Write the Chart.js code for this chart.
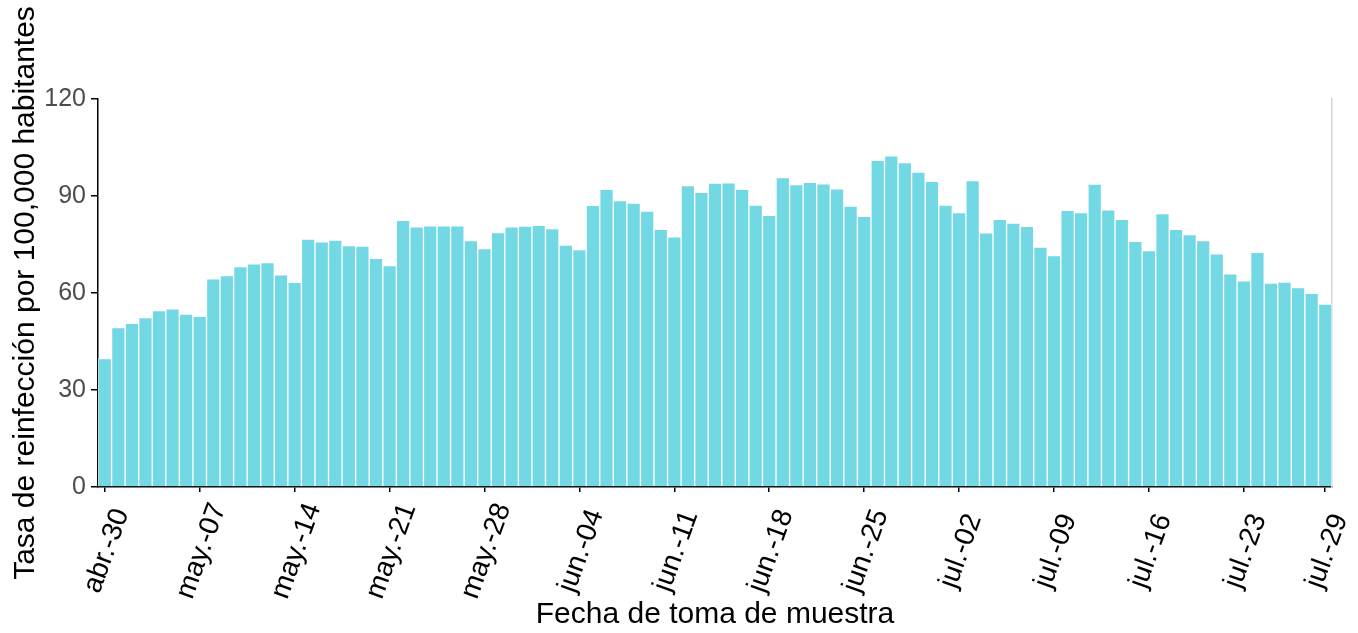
<!DOCTYPE html>
<html lang="es">
<head>
<meta charset="utf-8">
<title>Tasa de reinfección</title>
<script src="https://cdn.jsdelivr.net/npm/chart.js@4.4.1/dist/chart.umd.min.js"></script>
<style>
  html, body { margin: 0; padding: 0; background: #fff; }
  #wrap { width: 1358px; height: 633px; }
</style>
</head>
<body>
<div id="wrap"><canvas id="grafico"></canvas></div>
<script>
// Días cubiertos: abr.-30 a jul.-29 (mes, día inicial, día final)
const meses = [['abr.', 30, 30], ['may.', 1, 31], ['jun.', 1, 30], ['jul.', 1, 29]];
const fechas = [];
meses.forEach(([m, ini, fin]) => {
    for (let d = ini; d <= fin; d++) fechas.push(m + '-' + String(d).padStart(2, '0'));
});

// Etiquetas que se muestran en el eje x
const etiquetasEje = ['abr.-30', 'may.-07', 'may.-14', 'may.-21', 'may.-28', 'jun.-04', 'jun.-11',
    'jun.-18', 'jun.-25', 'jul.-02', 'jul.-09', 'jul.-16', 'jul.-23', 'jul.-29'];

// Tasa diaria de reinfección por 100,000 habitantes
const tasa = [
    39.7, 49.3, 50.6, 52.4, 54.6, 55.1, 53.5, 52.8, 64.4, 65.4, 68.2, 69.0, 69.4, 65.6, 63.3,
    76.7, 75.8, 76.4, 74.7, 74.5, 70.7, 68.5, 82.5, 80.5, 80.8, 80.8, 80.8, 76.2, 73.7, 78.7, 80.5,
    80.7, 80.9, 79.9, 74.8, 73.4, 87.1, 92.1, 88.6, 87.8, 85.3, 79.7, 77.4, 93.2, 91.1, 94.0,
    94.1, 92.1, 87.2, 84.0, 95.7, 93.5, 94.2, 93.8, 92.2, 86.9, 83.7, 101.0, 102.4, 100.3, 97.4, 94.5,
    87.2, 84.9, 94.8, 78.6, 82.8, 81.6, 80.6, 74.2, 71.6, 85.6, 84.9, 93.7, 85.7, 82.8,
    76.0, 73.1, 84.6, 79.7, 78.1, 76.2, 72.1, 65.9, 63.8, 72.6, 63.1, 63.4, 61.7, 59.9, 56.6
];

const ejeYMin = 0, ejeYMax = 120, pasoY = 30;

const fuente = '"Liberation Sans", Arial, sans-serif';
Chart.defaults.font.family = fuente;
Chart.defaults.animation = false;

const esMarcada = (i) => etiquetasEje.includes(fechas[i]);

// Etiquetas del eje x giradas 70° y centradas bajo cada marca (como en ggplot)
const etiquetasX = {
    id: 'etiquetasX',
    afterDraw(chart) {
        const { ctx, scales: { x } } = chart;
        ctx.save();
        ctx.font = '28px ' + fuente;
        ctx.fillStyle = '#000';
        ctx.textAlign = 'center';
        ctx.textBaseline = 'middle';
        fechas.forEach((f, i) => {
            if (!esMarcada(i)) return;
            ctx.save();
            ctx.translate(x.getPixelForTick(i) + 2, x.top + 64);
            ctx.rotate(-70 * Math.PI / 180);
            ctx.fillText(f, 0, 0);
            ctx.restore();
        });
        ctx.restore();
    }
};

new Chart(document.getElementById('grafico'), {
    type: 'bar',
    data: {
        labels: fechas,
        datasets: [{
            data: tasa,
            backgroundColor: '#72d8e4',
            borderColor: 'rgba(255,255,255,0.75)',
            borderWidth: 1,
            barPercentage: 1,
            categoryPercentage: 1
        }]
    },
    options: {
        responsive: true,
        maintainAspectRatio: false,
        layout: { padding: { top: 99, left: 8, right: 0, bottom: 0 } },
        plugins: { legend: { display: false }, tooltip: { enabled: false } },
        scales: {
            x: {
                grid: {
                    offset: false,
                    drawOnChartArea: false,
                    tickLength: 5,
                    lineWidth: 1.5,
                    color: (ctx) => esMarcada(ctx.index) ? '#000' : 'rgba(0,0,0,0)'
                },
                border: { color: '#000', width: 1.5 },
                ticks: { display: false, autoSkip: false },
                title: {
                    display: true,
                    text: 'Fecha de toma de muestra',
                    color: '#000',
                    font: { size: 30 },
                    padding: 0
                },
                afterFit: (s) => { s.height = 146; }
            },
            y: {
                min: ejeYMin,
                max: ejeYMax,
                ticks: { stepSize: pasoY, color: '#4d4d4d', font: { size: 25 }, padding: 5 },
                grid: { drawOnChartArea: false, tickLength: 7, color: '#000', lineWidth: 1.5 },
                border: { color: '#000', width: 1.5 },
                title: {
                    display: true,
                    text: 'Tasa de reinfección por 100,000 habitantes',
                    color: '#000',
                    font: { size: 30 },
                    padding: 0
                },
                afterFit: (s) => { s.width = 90; }
            },
            y2: {
                position: 'right',
                min: ejeYMin,
                max: ejeYMax,
                ticks: { stepSize: 15, display: false },
                grid: { drawOnChartArea: false, drawTicks: false, color: '#d3d3d3' },
                border: { color: '#d3d3d3', width: 1.5 },
                afterFit: (s) => { s.width = 26; }
            }
        }
    },
    plugins: [etiquetasX]
});
</script>
</body>
</html>
